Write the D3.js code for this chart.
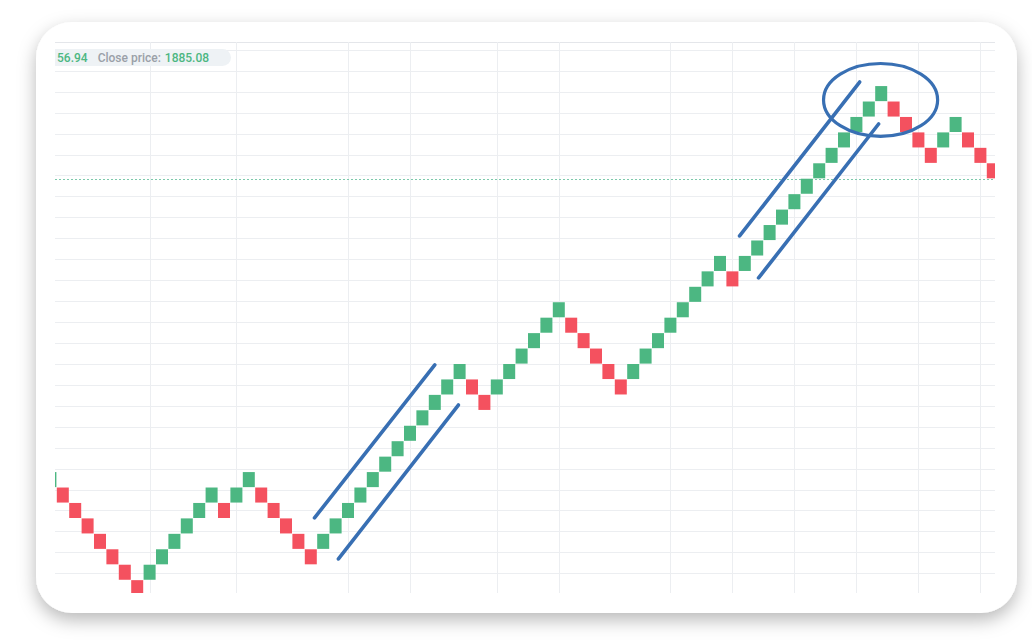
<!DOCTYPE html>
<html><head><meta charset="utf-8">
<script src="https://cdn.jsdelivr.net/npm/d3@7"></script>
<style>html,body{margin:0;padding:0;background:#fff;} svg{display:block}</style>
</head><body>
<svg id="chart" width="1032" height="644"></svg>
<script>
// Renko bricks, in box units (level of open / close of each brick)
const brickOpen  = [7,7,6,5,4,3,2,1, 1,2,3,4,5,6, 6, 6,7, 7,6,5,4,3, 3,4,5,6,7,8,9,10,11,12,13,14, 14,13, 13,14,15,16,17,18, 18,17,16,15,14, 14,15,16,17,18,19,20,21, 21, 21,22,23,24,25,26,27,28,29,30,31,32, 32,31,30,29, 29,30, 30,29,28];
const brickClose = [8,6,5,4,3,2,1,0, 2,3,4,5,6,7, 5, 7,8, 6,5,4,3,2, 4,5,6,7,8,9,10,11,12,13,14,15, 13,12, 14,15,16,17,18,19, 17,16,15,14,13, 15,16,17,18,19,20,21,22, 20, 22,23,24,25,26,27,28,29,30,31,32,33, 31,30,29,28, 30,31, 29,28,27];
// vertical (time) grid lines, by brick index
const timeGridBricks = [8,15,24,29,36,41,50,55,60,65,70,75];
// horizontal (price) grid lines, in box units
const priceGridLevels = [35.34,33.98,32.62,31.26,29.91,28.55,27.20,25.84,24.49,23.13,21.77,20.42,19.06,17.70,16.35,14.99,13.63,12.28,10.92,9.57,8.21,6.85,5.50,4.14,2.78,1.43,0.07];
// annotation trend lines: [brick0, level0, brick1, level1]
const trendLines = [
  [21.8, 5.02, 31.5, 14.93],
  [23.73, 2.36, 33.4, 12.33],
  [56.08, 23.28, 65.76, 33.25],
  [57.61, 20.56, 67.29, 30.53]
];
// highlight ellipse around the top: centre brick, centre level, radii
const highlightCenter = [67.45, 32.09];
const highlightRadius = [4.6, 2.36];
// header label
const labelParts = ["56.94", "Close price:", "1885.08"];

const svg = d3.select("#chart");
const plot = {left:55, right:995, top:42, bottom:593};
const brickCount = brickOpen.length;

const x = d3.scaleLinear().domain([0, 77]).range([44.2, 44.2 + 77*12.4]);
const y = d3.scaleLinear().domain([0, 36]).range([595.4, 595.4 - 36*15.44]);
const step = x(1) - x(0);

const defs = svg.append("defs");
const f = defs.append("filter").attr("id","shadow").attr("x","-10%").attr("y","-10%").attr("width","120%").attr("height","125%");
f.append("feDropShadow").attr("dx",0).attr("dy",7).attr("stdDeviation",9).attr("flood-color","#000").attr("flood-opacity",0.28);
defs.append("clipPath").attr("id","plotclip").append("rect")
  .attr("x",plot.left).attr("y",plot.top).attr("width",plot.right-plot.left).attr("height",plot.bottom-plot.top);

// card
svg.append("rect").attr("x",36).attr("y",22).attr("width",981).attr("height",591)
  .attr("rx",36).attr("ry",36).attr("fill","#fff").attr("filter","url(#shadow)");

const g = svg.append("g").attr("clip-path","url(#plotclip)");

// grid
g.append("line").attr("x1",plot.left).attr("x2",plot.right).attr("y1",plot.top+0.5).attr("y2",plot.top+0.5)
  .attr("stroke","#e4e6ea").attr("stroke-width",1);
g.selectAll("line.hgrid").data(priceGridLevels).join("line").attr("class","hgrid")
  .attr("x1",plot.left).attr("x2",plot.right)
  .attr("y1",d=>Math.round(y(d))+0.5).attr("y2",d=>Math.round(y(d))+0.5)
  .attr("stroke","#eceef1").attr("stroke-width",1);
g.selectAll("line.vgrid").data(timeGridBricks).join("line").attr("class","vgrid")
  .attr("x1",d=>Math.round(x(d)+step/2)+0.5).attr("x2",d=>Math.round(x(d)+step/2)+0.5)
  .attr("y1",plot.top).attr("y2",plot.bottom)
  .attr("stroke","#eceef1").attr("stroke-width",1);

// last close dotted line
const lastClose = brickClose[brickCount-1];
g.append("line").attr("x1",plot.left).attr("x2",plot.right)
  .attr("y1",Math.round(y(lastClose))+0.5).attr("y2",Math.round(y(lastClose))+0.5)
  .attr("stroke","#7cc9ab").attr("stroke-width",1).attr("stroke-dasharray","2,2");

// bricks
const idx = d3.range(brickCount);
g.selectAll("rect.brick").data(idx).join("rect").attr("class","brick")
  .attr("x",i=>x(i)+0.2)
  .attr("width",step-0.4)
  .attr("y",i=>y(Math.max(brickOpen[i],brickClose[i]))+0.2)
  .attr("height",i=>Math.abs(y(brickOpen[i])-y(brickClose[i]))-0.4)
  .attr("fill",i=>brickClose[i]>brickOpen[i] ? "#4cb782" : "#f4515f");

// annotations
g.selectAll("line.trend").data(trendLines).join("line").attr("class","trend")
  .attr("x1",d=>x(d[0])).attr("y1",d=>y(d[1])).attr("x2",d=>x(d[2])).attr("y2",d=>y(d[3]))
  .attr("stroke","#386fb3").attr("stroke-width",3.6).attr("stroke-linecap","round");
g.append("ellipse")
  .attr("cx",x(highlightCenter[0])).attr("cy",y(highlightCenter[1]))
  .attr("rx",x(highlightCenter[0]+highlightRadius[0])-x(highlightCenter[0]))
  .attr("ry",y(highlightCenter[1])-y(highlightCenter[1]+highlightRadius[1]))
  .attr("fill","none").attr("stroke","#386fb3").attr("stroke-width",3.2);

// header label pill
g.append("rect").attr("x",40).attr("y",49).attr("width",191).attr("height",17)
  .attr("rx",8.5).attr("fill","#eef2f5");
const t = g.append("text").attr("x",57).attr("y",62)
  .attr("font-family","Roboto, 'Noto Sans', sans-serif").attr("font-size",12).attr("font-weight",500);
t.append("tspan").text(labelParts[0]).attr("fill","#4cb782");
t.append("tspan").text(labelParts[1]).attr("fill","#9aa0a8").attr("dx",10);
t.append("tspan").text(labelParts[2]).attr("fill","#4cb782").attr("dx",4);
</script>
</body></html>
